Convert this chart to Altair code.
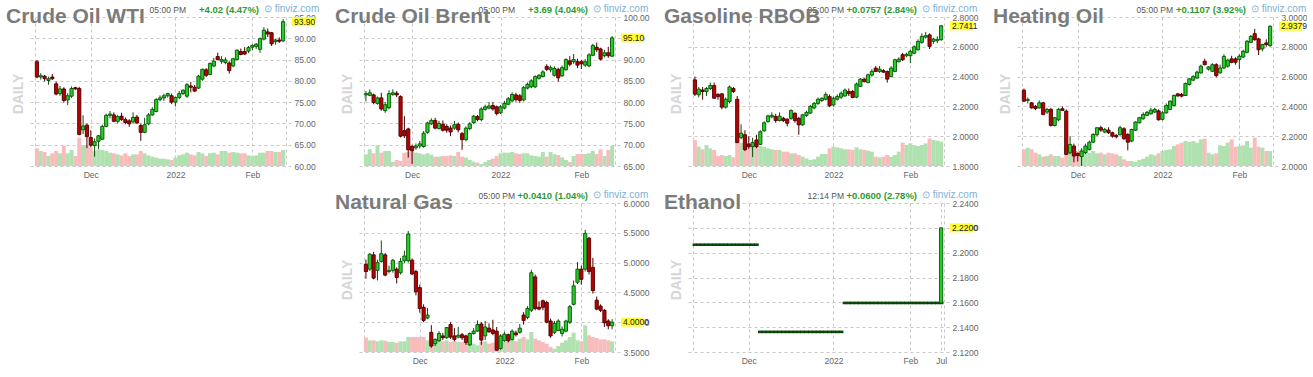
import altair as alt
import pandas as pd

W, H = 261, 149
FONT = "Liberation Sans"
GRID = "#c8c8c8"
LABEL = "#666666"
X_MIN, X_MAX = -0.5, 64.75
IDX = list(range(65))

NYMEX_TICKS = [14, 36, 56]
NYMEX_LABELS = ["Dec", "2022", "Feb"]
BRENT_TICKS = [12, 35, 56]
ETH_TICKS = [14, 36, 56, 64]
ETH_LABELS = ["Dec", "2022", "Feb", "Jul"]
VOL_DOMAIN = [0, 447]

# ---------------- Crude Oil WTI ----------------
WTI_OPEN = [84.5, 80.9, 81.1, 80.1, 80.9, 79.3, 77.0, 78.1, 75.5, 76.4,
            78.4, 78.2, 68.5, 69.6, 66.7, 64.8, 65.8, 66.3, 69.3, 71.9,
            72.0, 70.5, 71.7, 70.9, 70.6, 70.4, 71.5, 69.5, 67.9, 69.9,
            72.0, 72.8, 75.6, 76.0, 76.5, 76.5, 75.0, 76.1, 77.0, 76.4,
            78.8, 78.5, 78.3, 80.4, 82.6, 81.5, 83.5, 85.7, 84.6, 84.3,
            84.2, 83.5, 85.0, 86.9, 86.9, 87.0, 87.9, 88.1, 87.4, 89.8,
            91.5, 91.3, 89.2, 89.6, 89.4]
WTI_HIGH = [84.9, 81.8, 81.4, 81.0, 81.6, 79.8, 78.8, 78.5, 77.1, 78.7,
            78.6, 78.6, 71.9, 70.0, 68.4, 66.5, 67.3, 69.7, 72.3, 72.9,
            72.6, 72.0, 72.5, 71.4, 71.0, 72.6, 72.0, 70.0, 71.3, 72.4,
            73.8, 75.9, 76.6, 77.0, 77.2, 77.0, 76.3, 77.6, 78.0, 79.5,
            79.7, 79.0, 81.4, 82.9, 83.0, 84.3, 85.4, 86.6, 85.8, 85.5,
            84.6, 85.4, 87.4, 87.6, 87.9, 88.2, 88.6, 88.9, 90.2, 92.6,
            92.3, 91.5, 89.9, 90.2, 94.5]
WTI_LOW = [80.6, 80.3, 79.9, 79.1, 80.2, 76.6, 76.5, 74.9, 74.3, 76.0,
           77.9, 67.2, 67.5, 64.2, 64.4, 62.2, 64.0, 66.1, 69.1, 71.2,
           70.3, 70.0, 70.6, 69.8, 69.2, 70.0, 69.9, 65.9, 67.7, 69.6,
           71.8, 72.6, 75.2, 75.3, 76.1, 74.6, 74.0, 75.7, 76.7, 76.0,
           77.3, 77.4, 78.1, 80.0, 80.9, 81.3, 83.2, 84.9, 84.0, 83.9,
           81.7, 83.2, 84.8, 86.0, 86.1, 86.5, 87.2, 87.5, 86.6, 89.5,
           90.3, 88.2, 88.5, 88.9, 89.1]
WTI_CLOSE = [80.9, 81.2, 80.5, 80.5, 80.5, 76.9, 78.1, 75.4, 76.5, 78.2,
             78.1, 67.4, 69.4, 66.9, 64.9, 65.7, 67.1, 69.3, 71.9, 72.2,
             70.5, 71.6, 70.9, 70.2, 69.9, 71.4, 70.1, 67.9, 69.7, 72.0,
             73.3, 75.6, 76.0, 76.5, 77.0, 75.0, 76.1, 77.0, 77.8, 79.1,
             78.5, 77.6, 81.1, 82.7, 81.3, 84.1, 84.6, 85.0, 85.0, 84.9,
             82.4, 85.2, 87.2, 86.2, 86.3, 87.8, 88.3, 88.6, 89.9, 91.9,
             91.0, 88.7, 89.6, 89.3, 93.9]
WTI_VOL = [53, 45, 42, 30, 38, 45, 38, 60, 38, 48,
           30, 85, 63, 63, 55, 45, 50, 48, 45, 40,
           38, 35, 32, 38, 30, 35, 35, 45, 38, 32,
           28, 25, 22, 22, 20, 18, 25, 32, 35, 40,
           35, 32, 42, 38, 30, 38, 40, 35, 45, 45,
           40, 42, 40, 38, 38, 32, 30, 32, 40, 40,
           45, 45, 42, 42, 48]

# ---------------- Crude Oil Brent ----------------
BRENT_OPEN = [81.7, 81.6, 81.7, 79.7, 81.0, 78.0, 78.7, 81.8, 82.1, 81.3,
              73.3, 73.7, 69.6, 69.3, 69.7, 69.6, 72.9, 74.9, 75.7, 73.8,
              74.8, 74.3, 73.9, 73.9, 74.8, 72.6, 71.2, 73.8, 75.2, 76.6,
              75.9, 78.3, 78.6, 79.2, 78.9, 77.5, 78.6, 79.5, 80.3, 81.7,
              81.5, 80.5, 83.3, 83.6, 83.6, 85.6, 86.0, 88.4, 87.6, 86.3,
              87.7, 86.2, 87.6, 89.7, 89.5, 89.5, 89.5, 88.7, 88.5, 91.0,
              92.9, 92.5, 90.9, 91.6, 90.8]
BRENT_HIGH = [82.6, 83.0, 82.0, 81.3, 82.2, 80.0, 82.8, 83.0, 82.6, 81.6,
              76.7, 74.0, 70.0, 70.3, 70.9, 73.2, 75.4, 76.2, 76.3, 75.6,
              75.7, 74.8, 74.5, 75.6, 75.2, 73.0, 74.3, 75.3, 77.0, 77.0,
              78.8, 79.4, 80.0, 80.0, 79.2, 79.3, 80.3, 81.2, 82.3, 82.2,
              81.9, 83.8, 84.6, 85.4, 86.3, 86.6, 87.5, 88.9, 88.6, 88.4,
              88.1, 88.6, 90.3, 90.8, 91.3, 90.2, 89.9, 90.1, 91.5, 93.7,
              94.0, 92.8, 92.3, 93.0, 95.5]
BRENT_LOW = [80.2, 81.4, 79.5, 79.4, 78.0, 77.5, 78.3, 81.5, 81.2, 71.7,
             71.6, 67.0, 65.5, 68.8, 69.1, 69.3, 72.6, 74.6, 73.6, 73.6,
             73.1, 72.8, 72.0, 73.5, 72.9, 68.8, 70.8, 73.4, 74.9, 75.5,
             75.5, 78.0, 78.3, 78.0, 76.9, 77.2, 78.3, 79.3, 80.0, 80.1,
             79.8, 80.2, 83.0, 83.3, 83.3, 85.3, 85.8, 87.3, 87.0, 86.0,
             84.8, 85.9, 87.4, 88.4, 89.0, 88.0, 87.8, 88.3, 88.2, 90.8,
             91.8, 89.8, 90.5, 90.4, 90.6]
BRENT_CLOSE = [82.0, 82.2, 79.9, 81.0, 78.4, 79.4, 82.0, 82.2, 81.7, 72.0,
               72.1, 68.8, 68.6, 69.7, 70.2, 72.7, 75.1, 75.7, 73.9, 75.0,
               73.4, 73.4, 73.0, 74.7, 73.5, 71.2, 73.9, 74.9, 76.7, 75.9,
               78.4, 78.9, 79.1, 78.4, 77.3, 78.9, 79.7, 80.8, 81.8, 80.6,
               80.4, 83.4, 84.2, 85.0, 86.0, 86.3, 87.1, 87.7, 88.1, 87.9,
               85.7, 88.1, 90.0, 88.9, 90.0, 88.7, 89.0, 89.5, 91.1, 93.3,
               92.3, 90.1, 91.6, 90.9, 95.1]
BRENT_VOL = [35, 50, 38, 62, 40, 45, 45, 12, 18, 15,
             40, 42, 45, 40, 38, 35, 38, 34, 28, 28,
             30, 30, 32, 30, 42, 28, 25, 18, 13, 10,
             6, 12, 18, 22, 30, 38, 40, 40, 42, 38,
             36, 38, 38, 32, 30, 28, 42, 28, 42, 35,
             33, 26, 18, 12, 30, 36, 36, 36, 38, 45,
             36, 50, 30, 48, 60]

# ---------------- Gasoline RBOB ----------------
RBOB_OPEN = [2.378, 2.278, 2.310, 2.300, 2.320, 2.340, 2.280, 2.284, 2.195, 2.233,
             2.320, 2.248, 1.990, 2.010, 1.948, 1.930, 1.975, 1.945, 2.036, 2.098,
             2.130, 2.132, 2.105, 2.120, 2.114, 2.120, 2.154, 2.120, 2.076, 2.140,
             2.155, 2.190, 2.220, 2.240, 2.248, 2.266, 2.210, 2.248, 2.262, 2.270,
             2.300, 2.300, 2.262, 2.334, 2.383, 2.360, 2.410, 2.457, 2.435, 2.440,
             2.434, 2.400, 2.435, 2.500, 2.547, 2.540, 2.540, 2.557, 2.580, 2.630,
             2.665, 2.680, 2.637, 2.641, 2.648]
RBOB_HIGH = [2.400, 2.330, 2.330, 2.330, 2.360, 2.360, 2.290, 2.290, 2.260, 2.340,
             2.330, 2.270, 2.080, 2.040, 2.000, 1.990, 2.010, 2.040, 2.100, 2.145,
             2.160, 2.150, 2.160, 2.130, 2.120, 2.180, 2.160, 2.130, 2.150, 2.170,
             2.210, 2.230, 2.260, 2.260, 2.295, 2.280, 2.265, 2.280, 2.300, 2.320,
             2.320, 2.310, 2.360, 2.390, 2.390, 2.420, 2.450, 2.470, 2.470, 2.450,
             2.440, 2.470, 2.520, 2.530, 2.560, 2.560, 2.580, 2.610, 2.650, 2.690,
             2.700, 2.690, 2.660, 2.670, 2.745]
RBOB_LOW = [2.270, 2.260, 2.245, 2.270, 2.310, 2.250, 2.245, 2.180, 2.185, 2.220,
            2.290, 1.955, 1.980, 1.900, 1.915, 1.860, 1.920, 1.940, 2.030, 2.090,
            2.120, 2.090, 2.100, 2.095, 2.065, 2.110, 2.090, 2.010, 2.070, 2.130,
            2.150, 2.180, 2.210, 2.230, 2.240, 2.195, 2.200, 2.240, 2.250, 2.265,
            2.270, 2.255, 2.255, 2.330, 2.360, 2.355, 2.400, 2.430, 2.425, 2.425,
            2.360, 2.395, 2.430, 2.495, 2.505, 2.530, 2.490, 2.550, 2.575, 2.620,
            2.655, 2.585, 2.620, 2.625, 2.640]
RBOB_CLOSE = [2.282, 2.316, 2.300, 2.320, 2.340, 2.255, 2.266, 2.195, 2.248, 2.330,
              2.300, 1.957, 2.020, 1.910, 1.930, 1.957, 1.930, 2.030, 2.090, 2.136,
              2.140, 2.105, 2.135, 2.105, 2.087, 2.172, 2.105, 2.076, 2.143, 2.160,
              2.200, 2.220, 2.248, 2.255, 2.280, 2.204, 2.255, 2.266, 2.288, 2.310,
              2.285, 2.260, 2.350, 2.383, 2.367, 2.412, 2.435, 2.435, 2.450, 2.430,
              2.383, 2.457, 2.513, 2.517, 2.513, 2.550, 2.570, 2.600, 2.636, 2.670,
              2.675, 2.603, 2.652, 2.650, 2.7411]
RBOB_VOL = [78, 58, 50, 63, 53, 48, 30, 33, 30, 33,
            26, 88, 70, 60, 60, 66, 58, 60, 58, 53,
            50, 48, 48, 43, 43, 38, 38, 33, 28, 23,
            18, 20, 28, 36, 36, 53, 58, 56, 53, 50,
            50, 48, 56, 50, 48, 46, 43, 28, 26, 28,
            33, 28, 33, 43, 70, 63, 68, 63, 60, 63,
            68, 83, 78, 76, 73]

# ---------------- Heating Oil ----------------
HO_OPEN = [2.509, 2.440, 2.424, 2.400, 2.390, 2.424, 2.362, 2.380, 2.272, 2.310,
           2.384, 2.368, 2.089, 2.134, 2.085, 2.063, 2.090, 2.110, 2.160, 2.210,
           2.257, 2.228, 2.241, 2.223, 2.205, 2.210, 2.250, 2.212, 2.167, 2.240,
           2.290, 2.317, 2.340, 2.350, 2.362, 2.370, 2.313, 2.357, 2.380, 2.406,
           2.484, 2.480, 2.473, 2.547, 2.576, 2.590, 2.625, 2.703, 2.650, 2.636,
           2.680, 2.625, 2.658, 2.670, 2.719, 2.719, 2.714, 2.732, 2.763, 2.830,
           2.888, 2.853, 2.786, 2.826, 2.808]
HO_HIGH = [2.520, 2.460, 2.430, 2.410, 2.440, 2.430, 2.390, 2.390, 2.330, 2.390,
           2.400, 2.380, 2.200, 2.150, 2.090, 2.120, 2.150, 2.170, 2.220, 2.260,
           2.270, 2.255, 2.260, 2.230, 2.215, 2.270, 2.260, 2.220, 2.250, 2.300,
           2.330, 2.360, 2.370, 2.390, 2.390, 2.380, 2.370, 2.420, 2.440, 2.480,
           2.490, 2.490, 2.560, 2.590, 2.610, 2.640, 2.680, 2.720, 2.670, 2.690,
           2.690, 2.680, 2.750, 2.720, 2.740, 2.730, 2.750, 2.780, 2.845, 2.880,
           2.920, 2.860, 2.820, 2.850, 2.945]
HO_LOW = [2.430, 2.420, 2.385, 2.375, 2.385, 2.340, 2.350, 2.265, 2.265, 2.300,
          2.370, 2.075, 2.080, 2.025, 2.030, 2.000, 2.080, 2.105, 2.155, 2.200,
          2.230, 2.220, 2.215, 2.190, 2.185, 2.205, 2.175, 2.105, 2.160, 2.235,
          2.285, 2.310, 2.335, 2.345, 2.355, 2.305, 2.305, 2.350, 2.375, 2.400,
          2.465, 2.460, 2.470, 2.540, 2.570, 2.585, 2.620, 2.675, 2.640, 2.630,
          2.595, 2.620, 2.650, 2.660, 2.690, 2.680, 2.650, 2.725, 2.755, 2.825,
          2.840, 2.745, 2.770, 2.800, 2.800]
HO_CLOSE = [2.435, 2.447, 2.390, 2.385, 2.424, 2.346, 2.380, 2.272, 2.324, 2.380,
            2.373, 2.078, 2.145, 2.067, 2.070, 2.100, 2.134, 2.160, 2.212, 2.257,
            2.241, 2.245, 2.223, 2.200, 2.196, 2.257, 2.183, 2.160, 2.245, 2.295,
            2.324, 2.346, 2.360, 2.375, 2.380, 2.310, 2.357, 2.406, 2.435, 2.473,
            2.470, 2.469, 2.554, 2.585, 2.600, 2.630, 2.670, 2.680, 2.665, 2.680,
            2.607, 2.658, 2.736, 2.710, 2.696, 2.696, 2.737, 2.770, 2.837, 2.870,
            2.848, 2.780, 2.815, 2.815, 2.9379]
HO_VOL = [50, 55, 50, 40, 35, 28, 30, 35, 30, 30,
          25, 60, 55, 40, 45, 50, 45, 40, 45, 38,
          40, 35, 40, 38, 35, 30, 20, 15, 15, 12,
          18, 22, 28, 35, 32, 38, 45, 48, 50, 60,
          65, 70, 75, 72, 75, 70, 80, 82, 40, 35,
          38, 62, 60, 70, 80, 58, 60, 62, 75, 55,
          85, 58, 55, 45, 45]

# ---------------- Natural Gas ----------------
NG_OPEN = [4.97, 4.89, 5.13, 4.87, 5.02, 5.13, 4.85, 4.87, 4.89, 4.83,
           5.03, 5.03, 5.04, 4.85, 4.58, 4.25, 4.07, 3.83, 3.64, 3.69,
           3.77, 3.74, 3.96, 3.77, 3.75, 3.79, 3.77, 3.62, 3.81, 3.85,
           3.97, 3.77, 3.90, 3.87, 3.85, 3.56, 3.69, 3.79, 3.71, 3.82,
           3.83, 4.12, 4.08, 4.20, 4.76, 4.25, 4.36, 4.33, 4.02, 3.83,
           3.86, 3.81, 3.85, 4.00, 4.30, 4.67, 4.89, 4.89, 5.41, 4.92,
           4.37, 4.27, 4.20, 4.02, 3.94]
NG_HIGH = [5.05, 5.16, 5.18, 5.05, 5.37, 5.16, 4.95, 5.06, 4.92, 5.08,
           5.20, 5.53, 5.07, 4.88, 4.63, 4.30, 4.24, 3.95, 3.73, 3.85,
           3.82, 3.92, 4.00, 3.90, 3.92, 3.82, 3.79, 3.83, 3.90, 4.03,
           4.00, 4.02, 3.98, 4.04, 3.92, 3.80, 3.84, 3.81, 3.88, 3.86,
           3.97, 4.17, 4.27, 4.88, 4.80, 4.35, 4.38, 4.36, 4.06, 4.02,
           4.05, 3.93, 4.04, 4.29, 4.70, 5.01, 4.95, 5.55, 5.43, 5.08,
           4.43, 4.30, 4.22, 4.05, 4.05]
NG_LOW = [4.73, 4.86, 4.72, 4.70, 5.00, 4.77, 4.82, 4.83, 4.65, 4.80,
          4.99, 5.00, 4.79, 4.45, 4.16, 4.00, 4.05, 3.57, 3.60, 3.67,
          3.70, 3.72, 3.72, 3.68, 3.73, 3.70, 3.62, 3.60, 3.79, 3.84,
          3.62, 3.70, 3.82, 3.78, 3.52, 3.54, 3.67, 3.66, 3.69, 3.76,
          3.81, 3.96, 4.05, 4.17, 4.20, 4.20, 4.20, 3.98, 3.74, 3.80,
          3.85, 3.76, 3.83, 3.97, 4.28, 4.64, 4.63, 4.85, 4.80, 4.48,
          4.20, 4.17, 3.92, 3.88, 3.88]
NG_CLOSE = [4.85, 5.14, 4.74, 5.00, 5.15, 4.79, 4.87, 5.04, 4.75, 5.02,
            5.11, 5.48, 4.81, 4.51, 4.23, 4.03, 4.12, 3.60, 3.71, 3.81,
            3.74, 3.91, 3.75, 3.71, 3.78, 3.74, 3.66, 3.81, 3.85, 3.96,
            3.70, 3.92, 3.84, 3.81, 3.53, 3.77, 3.80, 3.69, 3.85, 3.79,
            3.90, 4.03, 4.23, 4.83, 4.23, 4.22, 4.25, 4.00, 3.77, 3.98,
            4.02, 3.88, 4.02, 4.26, 4.61, 4.89, 4.72, 5.49, 4.85, 4.53,
            4.22, 4.20, 3.99, 3.94, 4.00]
NG_VOL = [43, 35, 35, 32, 35, 34, 30, 30, 28, 32,
          32, 45, 45, 45, 45, 45, 35, 28, 35, 34,
          32, 35, 30, 33, 30, 30, 28, 30, 25, 20,
          30, 32, 25, 28, 35, 32, 30, 40, 35, 32,
          40, 45, 38, 60, 40, 35, 30, 25, 15, 10,
          18, 28, 35, 45, 58, 35, 32, 80, 50, 45,
          42, 38, 38, 35, 32]

# ---------------- Ethanol ----------------
ETH_OPEN = [2.2064, 2.2064, 2.2064, 2.2064, 2.2064, 2.2064, 2.2064, 2.2064, 2.2064, 2.2064,
            2.2064, 2.2064, 2.2064, 2.2064, 2.2064, 2.2064, 2.2064, 2.1362, 2.1362, 2.1362,
            2.1362, 2.1362, 2.1362, 2.1362, 2.1362, 2.1362, 2.1362, 2.1362, 2.1362, 2.1362,
            2.1362, 2.1362, 2.1362, 2.1362, 2.1362, 2.1362, 2.1362, 2.1362, 2.1362, 2.1595,
            2.1595, 2.1595, 2.1595, 2.1595, 2.1595, 2.1595, 2.1595, 2.1595, 2.1595, 2.1595,
            2.1595, 2.1595, 2.1595, 2.1595, 2.1595, 2.1595, 2.1595, 2.1595, 2.1595, 2.1595,
            2.1595, 2.1595, 2.1595, 2.1595, 2.1595]
ETH_CLOSE = [2.2064, 2.2064, 2.2064, 2.2064, 2.2064, 2.2064, 2.2064, 2.2064, 2.2064, 2.2064,
             2.2064, 2.2064, 2.2064, 2.2064, 2.2064, 2.2064, 2.2064, 2.1362, 2.1362, 2.1362,
             2.1362, 2.1362, 2.1362, 2.1362, 2.1362, 2.1362, 2.1362, 2.1362, 2.1362, 2.1362,
             2.1362, 2.1362, 2.1362, 2.1362, 2.1362, 2.1362, 2.1362, 2.1362, 2.1362, 2.1595,
             2.1595, 2.1595, 2.1595, 2.1595, 2.1595, 2.1595, 2.1595, 2.1595, 2.1595, 2.1595,
             2.1595, 2.1595, 2.1595, 2.1595, 2.1595, 2.1595, 2.1595, 2.1595, 2.1595, 2.1595,
             2.1595, 2.1595, 2.1595, 2.1595, 2.2200]
ETH_HIGH = ETH_CLOSE
ETH_LOW = ETH_OPEN

# ---------------- Y axes ----------------
WTI_TICKS = [60, 65, 70, 75, 80, 85, 90, 95]
BRENT_TICKS_Y = [65, 70, 75, 80, 85, 90, 95, 100]
RBOB_TICKS = [1.8, 2.0, 2.2, 2.4, 2.6, 2.8]
HO_TICKS = [2.0, 2.2, 2.4, 2.6, 2.8, 3.0]
NG_TICKS = [3.5, 4.0, 4.5, 5.0, 5.5, 6.0]
ETH_TICKS_Y = [2.12, 2.14, 2.16, 2.18, 2.20, 2.22, 2.24]

UP_FILL, UP_LINE = "#25d025", "#0a500a"
DN_FILL, DN_LINE = "#bb0000", "#4a0000"
VOL_UP, VOL_DN = "#b0e1b0", "#f8bcbc"
FLAT_LINE = "#0b3f0b"


def x_enc(xticks, xlabels):
    expr = "".join(f"datum.value == {t} ? '{s}' : " for t, s in zip(xticks, xlabels)) + "''"
    return alt.X(
        "i:Q",
        scale=alt.Scale(domain=[X_MIN, X_MAX], nice=False, zero=False),
        axis=alt.Axis(values=[X_MIN] + list(xticks) + [X_MAX], labelExpr=expr, title=None,
                      grid=True, gridDash=[3, 3], gridColor=GRID, domain=False, ticks=False,
                      labelFlush=False, labelOverlap=False, labelPadding=4, labelFontSize=8.5,
                      labelColor=LABEL, labelFont=FONT),
    )


def y_enc(field, dom, ticks, fmt):
    return alt.Y(
        f"{field}:Q",
        scale=alt.Scale(domain=dom, nice=False, zero=False),
        axis=alt.Axis(orient="right", values=ticks, format=fmt, title=None, grid=True,
                      gridDash=[3, 3], gridColor=GRID, domain=False, ticks=False,
                      labelPadding=3, labelFlush=False, labelOverlap=False,
                      labelFontSize=8.5, labelColor=LABEL, labelFont=FONT),
    )


def text_layer(txt, x, y, **kw):
    return alt.Chart(pd.DataFrame({"t": [txt]})).mark_text(font=FONT, **kw).encode(
        x=alt.value(x), y=alt.value(y), text="t:N")


def panel(title, o, h, l, c, vol, xticks, xlabels, ydom, yticks, fmt, time_txt, change_txt,
          flat=False):
    for arr in (o, h, l, c):
        assert len(arr) == 65
    df = pd.DataFrame({"i": IDX, "o": o, "h": h, "l": l, "c": c})
    up = alt.datum.c >= alt.datum.o
    X = x_enc(xticks, xlabels)
    base = alt.Chart(df)
    wick = base.mark_rule(strokeWidth=1).encode(
        x=X, y=y_enc("l", ydom, yticks, fmt), y2="h:Q",
        color=alt.condition(up, alt.value(UP_LINE), alt.value(DN_LINE)))
    body = base.mark_bar(size=3.2, strokeWidth=0.9).encode(
        x=X, y=y_enc("o", ydom, yticks, fmt), y2="c:Q",
        fill=alt.condition(up, alt.value(UP_FILL), alt.value(DN_FILL)),
        stroke=alt.condition(up, alt.value(UP_LINE), alt.value(DN_LINE)))
    layers = [wick, body]
    if flat:
        flat_ticks = base.mark_tick(orient="horizontal", size=4.6, thickness=2.6,
                                    color=FLAT_LINE, opacity=1).encode(
            x=X, y=y_enc("o", ydom, yticks, fmt))
        layers = [flat_ticks, body]
    last = alt.Chart(pd.DataFrame({"v": [c[-1]]}))
    hl = last.mark_tick(orient="horizontal", size=23, thickness=9, color="#ffff33", opacity=1).encode(
        x=alt.value(W + 12.5), y=y_enc("v", ydom, yticks, fmt))
    hl_txt = last.mark_text(align="left", baseline="middle", font=FONT, fontSize=8.5, color="#222222").encode(
        x=alt.value(W + 3), y=y_enc("v", ydom, yticks, fmt), text=alt.Text("v:Q", format=fmt))
    daily = text_layer("DAILY", -11, 77, angle=270, align="center", baseline="middle",
                       fontSize=14, fontWeight="bold", color="#d6d6d6")
    tm = text_layer(time_txt, 156, -4, align="right", baseline="alphabetic", fontSize=8.5,
                    color="#555555")
    chg = text_layer(change_txt, 229, -4, align="right", baseline="alphabetic", fontSize=9.5,
                     fontWeight="bold", color="#2e9a2e")
    fz = text_layer("⊙ finviz.com", 234, -5, align="left", baseline="alphabetic", fontSize=10,
                    color="#7eb0d4")
    ttl = text_layer(title, -24, 6, align="left", baseline="alphabetic", fontSize=21,
                     fontWeight="bold", color="#7b7b7b")
    inner = alt.layer(*layers, hl, hl_txt, daily, tm, chg, ttl, fz)
    if vol is None:
        return inner.properties(width=W, height=H)
    assert len(vol) == 65
    vdf = pd.DataFrame({"i": IDX, "o": o, "c": c, "vol": vol})
    vbars = alt.Chart(vdf).mark_bar(size=4).encode(
        x=X, y=alt.Y("vol:Q", scale=alt.Scale(domain=VOL_DOMAIN), axis=None),
        color=alt.condition(up, alt.value(VOL_UP), alt.value(VOL_DN)))
    return alt.layer(vbars, inner).resolve_scale(y="independent").properties(width=W, height=H)


wti = panel("Crude Oil WTI", WTI_OPEN, WTI_HIGH, WTI_LOW, WTI_CLOSE, WTI_VOL,
            NYMEX_TICKS, NYMEX_LABELS, [60, 95], WTI_TICKS, ".2f", "05:00 PM", "+4.02 (4.47%)")
brent = panel("Crude Oil Brent", BRENT_OPEN, BRENT_HIGH, BRENT_LOW, BRENT_CLOSE, BRENT_VOL,
              BRENT_TICKS, NYMEX_LABELS, [65, 100], BRENT_TICKS_Y, ".2f", "05:00 PM", "+3.69 (4.04%)")
rbob = panel("Gasoline RBOB", RBOB_OPEN, RBOB_HIGH, RBOB_LOW, RBOB_CLOSE, RBOB_VOL,
             NYMEX_TICKS, NYMEX_LABELS, [1.8, 2.8], RBOB_TICKS, ".4f", "05:00 PM", "+0.0757 (2.84%)")
ho = panel("Heating Oil", HO_OPEN, HO_HIGH, HO_LOW, HO_CLOSE, HO_VOL,
           NYMEX_TICKS, NYMEX_LABELS, [2.0, 3.0], HO_TICKS, ".4f", "05:00 PM", "+0.1107 (3.92%)")
ng = panel("Natural Gas", NG_OPEN, NG_HIGH, NG_LOW, NG_CLOSE, NG_VOL,
           NYMEX_TICKS, NYMEX_LABELS, [3.5, 6.0], NG_TICKS, ".4f", "05:00 PM", "+0.0410 (1.04%)")
eth = panel("Ethanol", ETH_OPEN, ETH_HIGH, ETH_LOW, ETH_CLOSE, None,
            ETH_TICKS, ETH_LABELS, [2.12, 2.24], ETH_TICKS_Y, ".4f", "12:14 PM", "+0.0600 (2.78%)",
            flat=True)

spacer = alt.Chart(pd.DataFrame({"a": [0]})).mark_point(opacity=0).encode(
    x=alt.value(0), y=alt.value(0)).properties(width=W, height=H)

chart = alt.concat(
    wti, brent, rbob, ho, spacer, ng, eth,
    columns=4,
    spacing=alt.RowColnumber(row=37, column=68),
    bounds="flush",
).properties(
    padding={"left": 6, "top": 4, "right": 0, "bottom": 0},
    background="white",
).configure_view(strokeOpacity=0)

chart.save("out.html", embed_options={"renderer": "svg", "actions": False})
